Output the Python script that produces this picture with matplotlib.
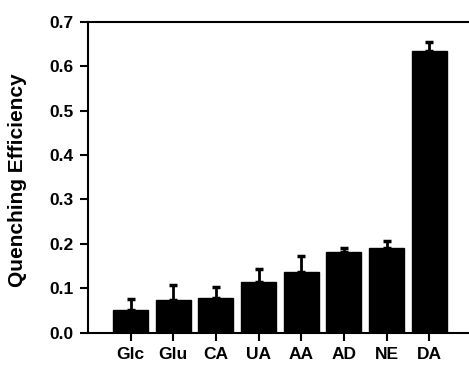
import matplotlib

matplotlib.use("Agg")
import matplotlib.pyplot as plt
import numpy as np

labels = ["Glc", "Glu", "CA", "UA", "AA", "AD", "NE", "DA"]
efficiency = [0.050, 0.074, 0.077, 0.113, 0.137, 0.182, 0.190, 0.633]
error = [0.025, 0.033, 0.025, 0.030, 0.035, 0.008, 0.016, 0.021]

plt.rcParams["font.family"] = ["Liberation Sans", "DejaVu Sans"]
plt.rcParams["font.weight"] = "bold"

fig = plt.figure(figsize=(4.69, 3.65), dpi=100)
ax = fig.add_axes([0.1876, 0.0885, 0.8124, 0.852])

x = np.arange(len(labels))
ax.bar(x, efficiency, width=0.82, color="black", edgecolor="black")
ax.errorbar(x, efficiency, yerr=[np.zeros(len(error)), error], fmt="none",
            ecolor="black", elinewidth=2, capsize=3, capthick=2.5)

ax.set_xlim(-1, 7.93)
ax.set_ylim(0, 0.7)
ticks = np.arange(0, 0.71, 0.1)
ax.set_yticks(ticks)
ax.set_yticklabels([f"{v:.1f}" for v in ticks])
ax.set_xticks(x)
ax.set_xticklabels(labels)
ax.tick_params(direction="out", length=5.5, width=1.5, labelsize=12.5)
ax.tick_params(axis="y", pad=5)
ax.tick_params(axis="x", pad=5)
for lab in ax.get_xticklabels() + ax.get_yticklabels():
    lab.set_fontweight("bold")
ax.set_ylabel("Quenching Efficiency", fontsize=15, fontweight="bold")
ax.yaxis.set_label_coords(-0.16, 0.49, transform=ax.transAxes)

ax.spines["right"].set_visible(False)
for side in ("left", "bottom", "top"):
    ax.spines[side].set_linewidth(1.5)

fig.savefig("out.png", dpi=100)
